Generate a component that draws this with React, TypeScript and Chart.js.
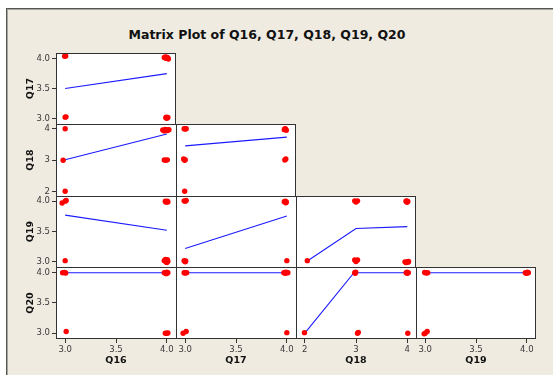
import React, { useEffect, useRef } from "react";
import { Chart, registerables } from "chart.js";

Chart.register(...registerables);

// ---- variables, ticks and axis ranges ----
const TITLE = "Matrix Plot of Q16, Q17, Q18, Q19, Q20";
const COL_VARS = ["Q16", "Q17", "Q18", "Q19"];
const ROW_VARS = ["Q17", "Q18", "Q19", "Q20"];

const TICKS_HALF = [3.0, 3.5, 4.0];
const TICK_LABELS_HALF = ["3.0", "3.5", "4.0"];
const TICKS_WHOLE = [2, 3, 4];
const TICK_LABELS_WHOLE = ["2", "3", "4"];

const X_RANGE: Record<string, [number, number]> = {
  Q16: [2.91, 4.09],
  Q17: [2.91, 4.09],
  Q18: [1.83, 4.17],
  Q19: [2.91, 4.09],
};
const Y_RANGE: Record<string, [number, number]> = {
  Q17: [2.905, 4.095],
  Q18: [1.85, 4.15],
  Q19: [2.915, 4.085],
  Q20: [2.905, 4.095],
};

// ---- observations (jittered) and lowess smoothers, one pair per panel ----
const q17q16Points = [
  [2.995, 4.04], [3.005, 4.045],
  [3.0, 3.02], [3.008, 3.025],
  [3.975, 4.02], [3.99, 4.005], [4.0, 4.025], [4.01, 4.01], [4.015, 3.995], [3.985, 4.03],
  [3.99, 3.01], [4.0, 3.0], [4.01, 3.015], [3.995, 3.02],
];
const q17q16Smooth = [[3.0, 3.5], [4.0, 3.75]];

const q18q16Points = [
  [3.0, 4.0], [2.98, 2.99], [3.0, 2.0],
  [3.96, 3.96], [3.975, 3.93], [3.99, 3.95], [4.005, 3.94], [4.02, 3.97], [3.985, 3.975], [4.01, 3.96],
  [3.975, 3.0], [3.99, 2.99], [4.005, 3.005],
];
const q18q16Smooth = [[2.98, 2.99], [4.0, 3.83]];

const q19q16Points = [
  [2.97, 3.97], [3.0, 4.0], [3.01, 4.01],
  [3.0, 3.02],
  [3.985, 4.0], [3.995, 3.99], [4.005, 4.0], [4.01, 3.985], [3.99, 3.985],
  [3.975, 3.02], [3.99, 3.0], [4.005, 3.035], [4.0, 2.99], [4.01, 3.01], [3.985, 3.04],
];
const q19q16Smooth = [[3.0, 3.77], [4.0, 3.52]];

const q20q16Points = [
  [2.975, 4.0], [2.995, 4.005], [3.005, 3.995],
  [3.01, 3.03],
  [3.975, 4.0], [3.99, 3.99], [4.0, 4.01], [4.01, 4.0], [3.995, 3.985],
  [3.985, 3.0], [4.0, 3.0], [4.01, 3.005],
];
const q20q16Smooth = [[3.0, 4.0], [4.0, 4.0]];

const q18q17Points = [
  [2.99, 4.0], [3.0, 3.99], [3.01, 4.0],
  [2.985, 3.03], [2.995, 2.99], [3.0, 3.01],
  [2.995, 2.0],
  [3.975, 3.97], [3.985, 4.0], [3.995, 3.95], [3.98, 3.99],
  [3.98, 3.0], [3.99, 3.03],
];
const q18q17Smooth = [[3.0, 3.45], [4.0, 3.73]];

const q19q17Points = [
  [2.99, 4.005], [3.0, 4.0], [3.01, 4.01],
  [2.99, 3.02], [3.0, 3.0], [3.005, 3.015],
  [3.975, 3.99], [3.99, 3.975], [3.985, 4.0], [3.995, 3.985],
  [4.0, 3.02],
];
const q19q17Smooth = [[3.0, 3.22], [4.0, 3.755]];

const q20q17Points = [
  [2.99, 4.0], [3.0, 3.995], [3.015, 4.0],
  [2.98, 3.0], [3.01, 3.03],
  [3.97, 4.0], [3.985, 3.99], [4.0, 4.005], [4.01, 4.0], [3.99, 4.01],
  [4.0, 3.01],
];
const q20q17Smooth = [[3.0, 4.0], [4.0, 4.0]];

const q19q18Points = [
  [2.05, 3.02],
  [2.975, 4.005], [3.03, 4.005], [3.0, 3.985],
  [2.975, 3.03], [3.03, 3.03], [3.0, 3.005],
  [3.975, 4.0], [3.995, 3.98], [4.01, 3.995], [3.99, 4.005],
  [3.955, 3.0], [3.975, 2.99], [3.995, 3.0], [4.015, 2.995], [4.025, 3.005],
];
const q19q18Smooth = [[2.08, 3.03], [3.0, 3.55], [4.0, 3.58]];

const q20q18Points = [
  [1.995, 3.01],
  [2.975, 4.0], [2.995, 4.01], [2.985, 3.99],
  [3.03, 3.0], [3.045, 3.015],
  [3.98, 4.0], [4.0, 3.99], [4.02, 4.0], [3.995, 4.01],
  [4.01, 3.0],
];
const q20q18Smooth = [[2.01, 3.01], [2.96, 4.0], [4.0, 4.0]];

const q20q19Points = [
  [2.995, 4.005], [3.01, 3.995], [3.025, 4.0],
  [2.99, 2.99], [3.02, 3.03], [3.0, 3.0],
  [3.985, 4.0], [3.995, 3.99], [4.005, 4.01], [4.015, 4.0], [4.0, 3.995],
];
const q20q19Smooth = [[3.0, 4.0], [4.0, 4.0]];

// panel grid: row = y variable, col = x variable (lower triangle)
const PANELS = [
  { row: 0, col: 0, points: q17q16Points, smooth: q17q16Smooth },
  { row: 1, col: 0, points: q18q16Points, smooth: q18q16Smooth },
  { row: 1, col: 1, points: q18q17Points, smooth: q18q17Smooth },
  { row: 2, col: 0, points: q19q16Points, smooth: q19q16Smooth },
  { row: 2, col: 1, points: q19q17Points, smooth: q19q17Smooth },
  { row: 2, col: 2, points: q19q18Points, smooth: q19q18Smooth },
  { row: 3, col: 0, points: q20q16Points, smooth: q20q16Smooth },
  { row: 3, col: 1, points: q20q17Points, smooth: q20q17Smooth },
  { row: 3, col: 2, points: q20q18Points, smooth: q20q18Smooth },
  { row: 3, col: 3, points: q20q19Points, smooth: q20q19Smooth },
];

// ---- layout & style ----
const COL_X = [56, 176, 296, 416, 536];
const ROW_Y = [53, 124, 196, 267, 339];
const LEFT_AXIS_W = 40;
const BOTTOM_AXIS_H = 36;
const BEIGE = "#EFEBE1";
const FONT = "'DejaVu Sans', Verdana, sans-serif";
const FRAME_COLOR = "#333333";

const ticksFor = (v: string) => (v === "Q18" ? TICKS_WHOLE : TICKS_HALF);
const labelsFor = (v: string) => (v === "Q18" ? TICK_LABELS_WHOLE : TICK_LABELS_HALF);

const panelFrame = {
  id: "panelFrame",
  beforeDraw(chart: any) {
    const { ctx, chartArea: a } = chart;
    ctx.save();
    ctx.fillStyle = "#ffffff";
    ctx.fillRect(a.left, a.top, a.right - a.left, a.bottom - a.top);
    ctx.restore();
  },
  afterDatasetsDraw(chart: any, _args: any, opts: any) {
    const { ctx, chartArea: a } = chart;
    const e = opts.edges || {};
    ctx.save();
    ctx.strokeStyle = FRAME_COLOR;
    ctx.lineWidth = 1;
    ctx.beginPath();
    if (e.left) { ctx.moveTo(a.left + 0.5, a.top); ctx.lineTo(a.left + 0.5, a.bottom); }
    if (e.top) { ctx.moveTo(a.left, a.top + 0.5); ctx.lineTo(a.right, a.top + 0.5); }
    if (e.right) { ctx.moveTo(a.right - 0.5, a.top); ctx.lineTo(a.right - 0.5, a.bottom); }
    if (e.bottom) { ctx.moveTo(a.left, a.bottom - 0.5); ctx.lineTo(a.right, a.bottom - 0.5); }
    ctx.stroke();
    ctx.restore();
  },
};

function axisConfig(varName: string, range: [number, number], show: boolean, horizontal: boolean) {
  const values = ticksFor(varName);
  const labels = labelsFor(varName);
  return {
    type: "linear",
    min: range[0],
    max: range[1],
    display: show,
    afterBuildTicks: (s: any) => {
      s.ticks = values.map((v) => ({ value: v }));
    },
    afterFit: (s: any) => {
      if (show) {
        if (horizontal) s.height = BOTTOM_AXIS_H;
        else s.width = LEFT_AXIS_W;
      }
      s.paddingLeft = 0;
      s.paddingRight = 0;
      s.paddingTop = 0;
      s.paddingBottom = 0;
    },
    ticks: {
      autoSkip: false,
      maxRotation: 0,
      minRotation: 0,
      padding: 2,
      color: "#3a3a3a",
      font: { family: FONT, size: 8.5 },
      callback: (_v: any, i: number) => labels[i],
    },
    grid: {
      display: true,
      drawOnChartArea: false,
      drawTicks: true,
      tickLength: 4,
      color: "#333333",
      lineWidth: 1,
    },
    border: { display: false },
    title: {
      display: true,
      text: varName,
      color: "#111111",
      font: { family: FONT, size: 9.5, weight: "bold" },
      padding: horizontal ? { top: 0, bottom: 9 } : { top: 9, bottom: 0 },
    },
  };
}

function Panel({ row, col, points, smooth }: any) {
  const ref = useRef<HTMLCanvasElement>(null);
  const xVar = COL_VARS[col];
  const yVar = ROW_VARS[row];
  const showY = col === 0;
  const showX = row === 3;
  const left = COL_X[col] - (showY ? LEFT_AXIS_W : 0);
  const top = ROW_Y[row];
  const width = COL_X[col + 1] - COL_X[col] + (showY ? LEFT_AXIS_W : 0);
  const height = ROW_Y[row + 1] - ROW_Y[row] + (showX ? BOTTOM_AXIS_H : 0);

  useEffect(() => {
    const chart = new Chart(ref.current as HTMLCanvasElement, {
      type: "scatter",
      data: {
        datasets: [
          {
            data: points.map(([x, y]: number[]) => ({ x, y })),
            backgroundColor: "#ff0000",
            borderWidth: 0,
            pointRadius: 2.7,
            pointHoverRadius: 2.7,
            showLine: false,
          },
          {
            data: smooth.map(([x, y]: number[]) => ({ x, y })),
            borderColor: "#1a1aff",
            borderWidth: 1.1,
            pointRadius: 0,
            pointHoverRadius: 0,
            showLine: true,
            fill: false,
          },
        ],
      },
      options: {
        responsive: false,
        maintainAspectRatio: false,
        animation: false,
        devicePixelRatio: 1,
        events: [],
        layout: { padding: 0, autoPadding: false },
        plugins: {
          legend: { display: false },
          tooltip: { enabled: false },
          title: { display: false },
          panelFrame: {
            edges: { left: true, top: true, right: col === row, bottom: row === 3 },
          },
        } as any,
        scales: {
          x: axisConfig(xVar, X_RANGE[xVar], showX, true) as any,
          y: axisConfig(yVar, Y_RANGE[yVar], showY, false) as any,
        },
      },
      plugins: [panelFrame],
    });
    return () => chart.destroy();
  }, []);

  return (
    <canvas
      ref={ref}
      width={width}
      height={height}
      style={{ position: "absolute", left, top, width, height, display: "block" }}
    />
  );
}

export default function App() {
  return (
    <div
      style={{
        position: "absolute",
        left: 0,
        top: 0,
        width: 553,
        height: 375,
        background: "#ffffff",
        overflow: "hidden",
      }}
    >
      <div
        style={{
          position: "absolute",
          left: 6,
          top: 8,
          right: 0,
          bottom: 0,
          background: BEIGE,
          borderTop: "1px solid #555",
          borderLeft: "1px solid #555",
          boxShadow: "inset 1px 1px 0 #a9a6a0",
        }}
      />
      <div
        style={{
          position: "absolute",
          left: 0,
          top: 27,
          width: 534,
          textAlign: "center",
          fontFamily: FONT,
          fontWeight: "bold",
          fontSize: 12.5,
          lineHeight: "15px",
          color: "#111111",
          whiteSpace: "nowrap",
        }}
      >
        {TITLE}
      </div>
      {PANELS.map((p) => (
        <Panel key={`${p.row}-${p.col}`} {...p} />
      ))}
    </div>
  );
}
